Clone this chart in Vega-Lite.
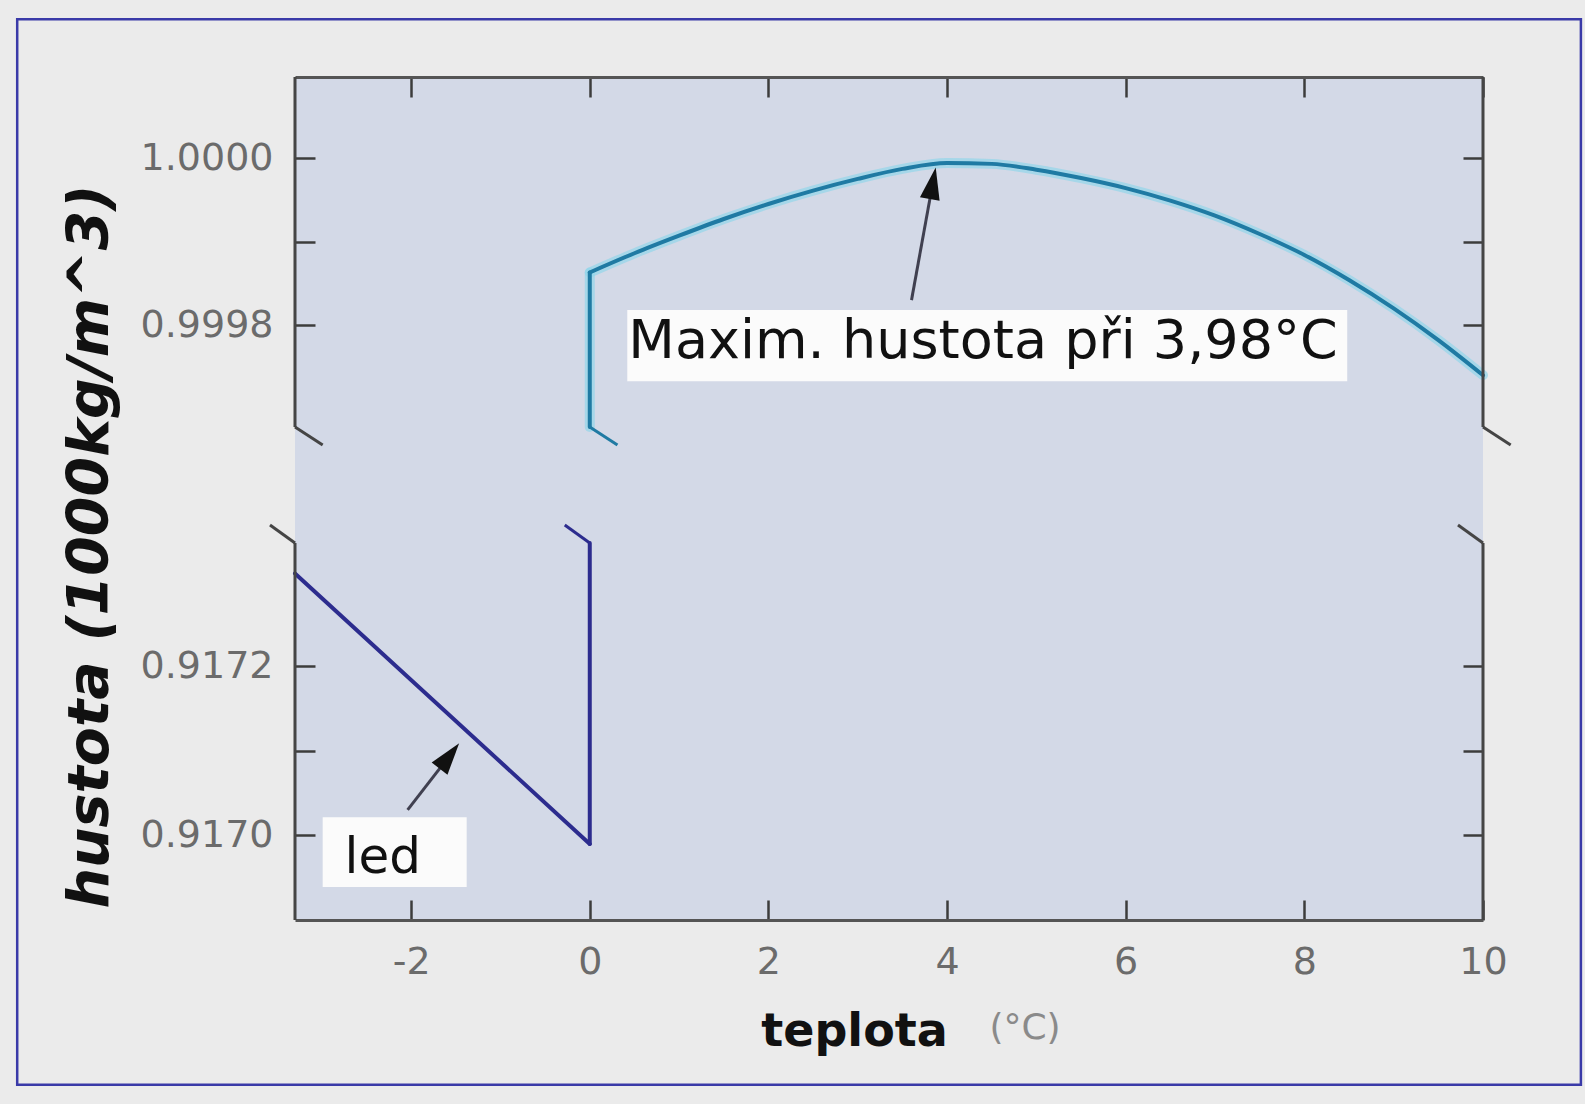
{
  "$schema": "https://vega.github.io/schema/vega-lite/v6.json",
  "width": 1188,
  "height": 843,
  "autosize": {"type": "none"},
  "padding": {"left": 295, "top": 77, "right": 102, "bottom": 184},
  "background": "#ebebeb",
  "config": {
    "view": {"fill": "#d3d9e7", "stroke": null},
    "axis": {
      "grid": false,
      "labelFont": "DejaVu Sans",
      "labelFontSize": 38,
      "labelColor": "#6b6b6b",
      "labelFlush": false,
      "labelOverlap": false,
      "tickColor": "#3c3c3c",
      "tickWidth": 2.5,
      "domainColor": "#555555",
      "domainWidth": 3
    }
  },
  "datasets": {
    "hustota": [
      {"s": "led", "u": "led-sklon", "i": 0, "t": -3.3, "rho": 0.91731},
      {"s": "led", "u": "led-sklon", "i": 1, "t": 0, "rho": 0.91699},
      {"s": "led", "u": "led-svisle", "i": 0, "t": 0, "rho": 0.91699},
      {"s": "led", "u": "led-svisle", "i": 1, "t": 0, "rho": 0.917346},
      {"s": "voda", "u": "voda-svisle", "i": 0, "t": 0, "rho": 0.999678},
      {"s": "voda", "u": "voda-svisle", "i": 1, "t": 0, "rho": 0.999863},
      {"s": "voda", "u": "voda-krivka", "i": 1, "t": 0, "rho": 0.999863},
      {"s": "voda", "u": "voda-krivka", "i": 2, "t": 0.5, "rho": 0.999886},
      {"s": "voda", "u": "voda-krivka", "i": 3, "t": 1, "rho": 0.999907},
      {"s": "voda", "u": "voda-krivka", "i": 4, "t": 1.5, "rho": 0.999927},
      {"s": "voda", "u": "voda-krivka", "i": 5, "t": 2, "rho": 0.999945},
      {"s": "voda", "u": "voda-krivka", "i": 6, "t": 2.5, "rho": 0.999961},
      {"s": "voda", "u": "voda-krivka", "i": 7, "t": 3, "rho": 0.999975},
      {"s": "voda", "u": "voda-krivka", "i": 8, "t": 3.5, "rho": 0.999987},
      {"s": "voda", "u": "voda-krivka", "i": 9, "t": 4, "rho": 0.999994},
      {"s": "voda", "u": "voda-krivka", "i": 10, "t": 4.5, "rho": 0.999993},
      {"s": "voda", "u": "voda-krivka", "i": 11, "t": 5, "rho": 0.999986},
      {"s": "voda", "u": "voda-krivka", "i": 12, "t": 5.5, "rho": 0.999976},
      {"s": "voda", "u": "voda-krivka", "i": 13, "t": 6, "rho": 0.999964},
      {"s": "voda", "u": "voda-krivka", "i": 14, "t": 6.5, "rho": 0.999949},
      {"s": "voda", "u": "voda-krivka", "i": 15, "t": 7, "rho": 0.999931},
      {"s": "voda", "u": "voda-krivka", "i": 16, "t": 7.5, "rho": 0.999909},
      {"s": "voda", "u": "voda-krivka", "i": 17, "t": 8, "rho": 0.999884},
      {"s": "voda", "u": "voda-krivka", "i": 18, "t": 8.5, "rho": 0.999854},
      {"s": "voda", "u": "voda-krivka", "i": 19, "t": 9, "rho": 0.99982},
      {"s": "voda", "u": "voda-krivka", "i": 20, "t": 9.5, "rho": 0.999782},
      {"s": "voda", "u": "voda-krivka", "i": 21, "t": 10, "rho": 0.99974}
    ],
    "hrany": [
      {"k": "osa", "t1": -3.3, "r1": 0.999678, "t2": -3.3, "r2": 1.000097},
      {"k": "osa", "t1": -3.3, "r1": 0.9169, "t2": -3.3, "r2": 0.917346},
      {"k": "osa", "t1": 10, "r1": 0.999678, "t2": 10, "r2": 1.000097},
      {"k": "osa", "t1": 10, "r1": 0.9169, "t2": 10, "r2": 0.917346},
      {"k": "osa", "t1": -3.3, "r1": 0.999678, "t2": -2.99, "r2": 0.986902},
      {"k": "osa", "t1": -3.58, "r1": 0.930122, "t2": -3.3, "r2": 0.917346},
      {"k": "voda", "t1": 0, "r1": 0.999678, "t2": 0.31, "r2": 0.986902},
      {"k": "led", "t1": -0.28, "r1": 0.930122, "t2": 0, "r2": 0.917346},
      {"k": "osa", "t1": 10, "r1": 0.999678, "t2": 10.31, "r2": 0.986902},
      {"k": "osa", "t1": 9.72, "r1": 0.930122, "t2": 10, "r2": 0.917346}
    ],
    "okraj": [
      {"t1": -6.41, "t2": 11.096, "r1": 1.000166, "r2": 0.916705}
    ],
    "boxy": [
      {"cil": "maximum", "t1": 0.42, "t2": 8.48, "r1": 0.999818, "r2": 0.9997329},
      {"cil": "led", "t1": -2.99, "t2": -1.378, "r1": 0.9170217, "r2": 0.9169389}
    ],
    "sipky": [
      {"cil": "maximum", "t1": 3.602, "r1": 0.9998299, "t2": 3.83, "r2": 0.9999641},
      {"cil": "led", "t1": -2.039, "r1": 0.9170303, "t2": -1.598, "r2": 0.9170904}
    ],
    "hroty": [
      {"cil": "maximum", "t": 3.873, "rho": 0.9999886},
      {"cil": "led", "t": -1.462, "rho": 0.9171091}
    ],
    "texty": [
      {"cil": "maximum", "text": "Maxim. hustota při 3,98°C", "t": 4.403, "rho": 0.9997605},
      {"cil": "led", "text": "led", "t": -2.318, "rho": 0.9169555}
    ]
  },
  "resolve": {"axis": {"x": "independent", "y": "independent"}},
  "layer": [
    {
      "data": {"name": "okraj"},
      "mark": {"type": "rect", "fillOpacity": 0, "stroke": "#3a3aa8", "strokeWidth": 2.5},
      "encoding": {
        "x": {"field": "t1", "type": "quantitative", "scale": {"domain": [-3.3, 10], "nice": false, "zero": false}, "axis": null},
        "x2": {"field": "t2"},
        "y": {"field": "r1", "type": "quantitative", "scale": {"domain": [0.9169, 0.917346, 0.999678, 1.000097], "range": [843, 466, 350, 0], "nice": false, "zero": false}, "axis": null},
        "y2": {"field": "r2"}
      }
    },
    {
      "data": {"name": "hustota"},
      "transform": [{"filter": "datum.s == 'voda'"}],
      "mark": {"type": "line", "strokeWidth": 10, "color": "#93d6ea", "opacity": 0.7, "strokeJoin": "round", "strokeCap": "round", "interpolate": "monotone"},
      "encoding": {
        "x": {"field": "t", "type": "quantitative", "scale": {"domain": [-3.3, 10], "nice": false, "zero": false}, "axis": null},
        "y": {"field": "rho", "type": "quantitative", "scale": {"domain": [0.9169, 0.917346, 0.999678, 1.000097], "range": [843, 466, 350, 0], "nice": false, "zero": false}, "axis": null},
        "detail": {"field": "u", "type": "nominal"},
        "order": {"field": "i", "type": "quantitative"}
      }
    },
    {
      "data": {"name": "hustota"},
      "mark": {"type": "line", "strokeWidth": 4, "strokeJoin": "round", "strokeCap": "round", "interpolate": "monotone"},
      "encoding": {
        "x": {
          "field": "t", "type": "quantitative",
          "scale": {"domain": [-3.3, 10], "nice": false, "zero": false},
          "axis": {
            "orient": "bottom",
            "values": [-2, 0, 2, 4, 6, 8, 10],
            "labelExpr": "datum.value < 0 ? '-' + abs(datum.value) : '' + datum.value",
            "tickSize": -20,
            "labelPadding": 43,
            "domain": true,
            "title": "teplota",
            "titleFont": "DejaVu Sans",
            "titleFontSize": 46,
            "titleFontWeight": "bold",
            "titleColor": "#111111",
            "titleX": 559,
            "titleY": 125,
            "titleAlign": "center",
            "titleBaseline": "alphabetic",
            "titleAngle": 0
          }
        },
        "y": {
          "field": "rho", "type": "quantitative",
          "scale": {"domain": [0.9169, 0.917346, 0.999678, 1.000097], "range": [843, 466, 350, 0], "nice": false, "zero": false},
          "axis": {
            "orient": "left",
            "values": [0.917, 0.9171, 0.9172, 0.9998, 0.9999, 1.0],
            "labelExpr": "(datum.value == 0.9171 || datum.value == 0.9999) ? '' : format(datum.value, '.4f')",
            "tickSize": -20,
            "labelPadding": 42,
            "domain": false,
            "title": "hustota (1000kg/m^3)",
            "titleFont": "DejaVu Sans",
            "titleFontSize": 57,
            "titleFontWeight": "bold",
            "titleFontStyle": "italic",
            "titleColor": "#111111",
            "titleAngle": 270,
            "titleX": -188,
            "titleY": 469,
            "titleAlign": "center",
            "titleBaseline": "alphabetic"
          }
        },
        "color": {"field": "s", "type": "nominal", "scale": {"domain": ["led", "voda", "osa"], "range": ["#2c2c8e", "#1f7aa3", "#454545"]}, "legend": null},
        "detail": {"field": "u", "type": "nominal"},
        "order": {"field": "i", "type": "quantitative"}
      }
    },
    {
      "data": {"name": "hrany"},
      "mark": {"type": "rule", "strokeWidth": 3},
      "encoding": {
        "x": {
          "field": "t1", "type": "quantitative",
          "scale": {"domain": [-3.3, 10], "nice": false, "zero": false},
          "axis": {"orient": "top", "values": [-2, 0, 2, 4, 6, 8, 10], "labels": false, "tickSize": -20, "domain": true, "title": null}
        },
        "x2": {"field": "t2"},
        "y": {
          "field": "r1", "type": "quantitative",
          "scale": {"domain": [0.9169, 0.917346, 0.999678, 1.000097], "range": [843, 466, 350, 0], "nice": false, "zero": false},
          "axis": {"orient": "right", "values": [0.917, 0.9171, 0.9172, 0.9998, 0.9999, 1.0], "labels": false, "tickSize": -20, "domain": false, "title": null}
        },
        "y2": {"field": "r2"},
        "color": {"field": "k", "type": "nominal", "scale": {"domain": ["led", "voda", "osa"], "range": ["#2c2c8e", "#1f7aa3", "#454545"]}, "legend": null}
      }
    },
    {
      "data": {"name": "boxy"},
      "mark": {"type": "rect", "fill": "#fbfbfb"},
      "encoding": {
        "x": {
          "field": "t1", "type": "quantitative",
          "scale": {"domain": [-3.3, 10], "nice": false, "zero": false},
          "axis": {
            "orient": "bottom", "labels": false, "ticks": false, "domain": false,
            "title": "(°C)",
            "titleFont": "DejaVu Sans",
            "titleFontSize": 36,
            "titleFontWeight": "normal",
            "titleColor": "#8a8a8a",
            "titleX": 729.5,
            "titleY": 118,
            "titleAlign": "center",
            "titleBaseline": "alphabetic",
            "titleAngle": 0
          }
        },
        "x2": {"field": "t2"},
        "y": {"field": "r1", "type": "quantitative", "scale": {"domain": [0.9169, 0.917346, 0.999678, 1.000097], "range": [843, 466, 350, 0], "nice": false, "zero": false}, "axis": null},
        "y2": {"field": "r2"}
      }
    },
    {
      "data": {"name": "sipky"},
      "mark": {"type": "rule", "strokeWidth": 3, "color": "#404050"},
      "encoding": {
        "x": {"field": "t1", "type": "quantitative", "scale": {"domain": [-3.3, 10], "nice": false, "zero": false}, "axis": null},
        "x2": {"field": "t2"},
        "y": {"field": "r1", "type": "quantitative", "scale": {"domain": [0.9169, 0.917346, 0.999678, 1.000097], "range": [843, 466, 350, 0], "nice": false, "zero": false}, "axis": null},
        "y2": {"field": "r2"}
      }
    },
    {
      "data": {"name": "hroty"},
      "transform": [{"filter": "datum.cil == 'maximum'"}],
      "mark": {"type": "point", "shape": "M0,0L1,3.2L-1,3.2Z", "size": 400, "angle": 10.7, "filled": true, "color": "#111111", "opacity": 1, "strokeWidth": 0},
      "encoding": {
        "x": {"field": "t", "type": "quantitative", "scale": {"domain": [-3.3, 10], "nice": false, "zero": false}, "axis": null},
        "y": {"field": "rho", "type": "quantitative", "scale": {"domain": [0.9169, 0.917346, 0.999678, 1.000097], "range": [843, 466, 350, 0], "nice": false, "zero": false}, "axis": null}
      }
    },
    {
      "data": {"name": "hroty"},
      "transform": [{"filter": "datum.cil == 'led'"}],
      "mark": {"type": "point", "shape": "M0,0L1,3.2L-1,3.2Z", "size": 400, "angle": 37.8, "filled": true, "color": "#111111", "opacity": 1, "strokeWidth": 0},
      "encoding": {
        "x": {"field": "t", "type": "quantitative", "scale": {"domain": [-3.3, 10], "nice": false, "zero": false}, "axis": null},
        "y": {"field": "rho", "type": "quantitative", "scale": {"domain": [0.9169, 0.917346, 0.999678, 1.000097], "range": [843, 466, 350, 0], "nice": false, "zero": false}, "axis": null}
      }
    },
    {
      "data": {"name": "texty"},
      "transform": [{"filter": "datum.cil == 'maximum'"}],
      "mark": {"type": "text", "font": "DejaVu Sans", "fontSize": 54, "color": "#111111", "align": "center", "baseline": "alphabetic"},
      "encoding": {
        "x": {"field": "t", "type": "quantitative", "scale": {"domain": [-3.3, 10], "nice": false, "zero": false}, "axis": null},
        "y": {"field": "rho", "type": "quantitative", "scale": {"domain": [0.9169, 0.917346, 0.999678, 1.000097], "range": [843, 466, 350, 0], "nice": false, "zero": false}, "axis": null},
        "text": {"field": "text", "type": "nominal"}
      }
    },
    {
      "data": {"name": "texty"},
      "transform": [{"filter": "datum.cil == 'led'"}],
      "mark": {"type": "text", "font": "DejaVu Sans", "fontSize": 50, "color": "#111111", "align": "center", "baseline": "alphabetic"},
      "encoding": {
        "x": {"field": "t", "type": "quantitative", "scale": {"domain": [-3.3, 10], "nice": false, "zero": false}, "axis": null},
        "y": {"field": "rho", "type": "quantitative", "scale": {"domain": [0.9169, 0.917346, 0.999678, 1.000097], "range": [843, 466, 350, 0], "nice": false, "zero": false}, "axis": null},
        "text": {"field": "text", "type": "nominal"}
      }
    }
  ]
}
